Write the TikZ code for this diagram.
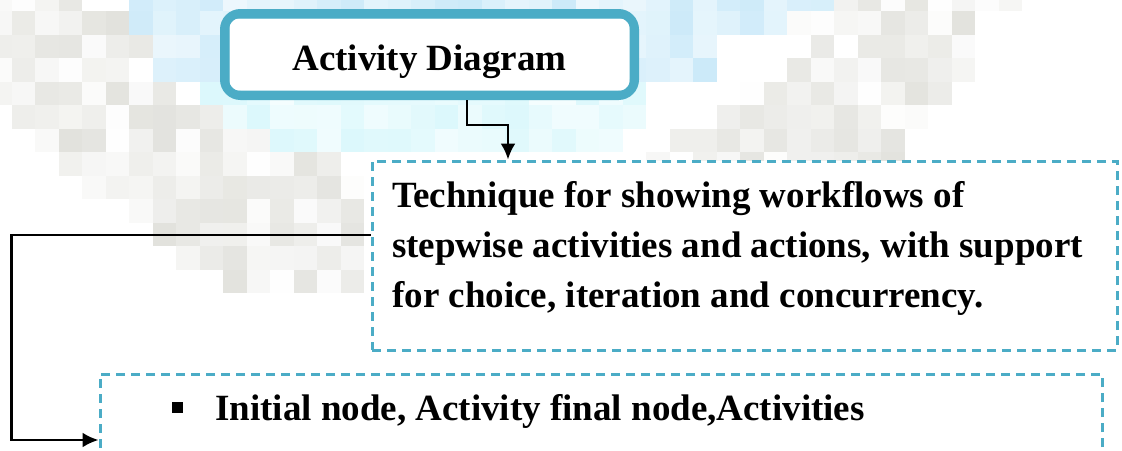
\documentclass[tikz,border=0pt]{standalone}
\usepackage{fontspec}
\setmainfont{Liberation Serif}
\usetikzlibrary{arrows.meta}
\definecolor{accent}{HTML}{4BACC6}
\definecolor{bgG}{HTML}{E2E2DD}
\definecolor{bgB}{HTML}{CCEAF9}
\definecolor{bgC}{HTML}{DBF8FC}
\begin{document}
\begin{tikzpicture}[x=1pt,y=-1pt,
  txt/.style={font=\fontsize{37pt}{50pt}\selectfont\bfseries, inner sep=0pt},
  conn/.style={draw=black, line width=2.5pt, -{Latex[length=16pt,width=15pt]}},
  dbox/.style={draw=accent, line width=3pt, dash pattern=on 9pt off 6pt, fill=white, inner sep=0pt}
]
\useasboundingbox (0,0) rectangle (1122,450);
\clip (0,0) rectangle (1122,450);
\fill[white] (0,0) rectangle (1122,450);
\pgfmathsetseed{7}
% grey mosaic, left band
\foreach \j/\a/\b in {0/0/3,1/0/5,2/0/7,3/0/5,4/0/7,5/1/10,6/2/12,7/3/14,8/4/15,9/5/15,10/7/15,11/8/15,12/10/15}{
  \foreach \i in {\a,...,\b}{
    \pgfmathrandominteger{\r}{0}{100}
    \fill[bgG!\r!white] ({-11.8+23.5*\i},{-12.5+23.5*\j}) rectangle ++(23.6,23.6);
  }
}
% grey mosaic, right
\foreach \j/\a/\b in {0/36/43,1/34/42,2/35/41,3/34/41,4/32/40,5/31/39,6/29/38,7/28/38}{
  \foreach \i in {\a,...,\b}{
    \pgfmathrandominteger{\r}{0}{100}
    \fill[bgG!\r!white] ({-11.8+23.5*\i},{-12.5+23.5*\j}) rectangle ++(23.6,23.6);
  }
}
% light blue mosaic
\foreach \j/\a/\b in {0/6/35,1/6/33,2/7/30,3/7/30}{
  \foreach \i in {\a,...,\b}{
    \pgfmathrandominteger{\r}{35}{100}
    \fill[bgB!\r!white] ({-11.8+23.5*\i},{-12.5+23.5*\j}) rectangle ++(23.6,23.6);
  }
}
\foreach \j/\a/\b in {4/9/27,5/10/27,6/12/26}{
  \foreach \i in {\a,...,\b}{
    \pgfmathrandominteger{\r}{30}{100}
    \fill[bgC!\r!white] ({-11.8+23.5*\i},{-12.5+23.5*\j}) rectangle ++(23.6,23.6);
  }
}
% title box
\node[draw=accent, line width=9pt, rounded corners=16pt, fill=white,
      minimum width=410pt, minimum height=82pt, inner sep=0pt] (title) at (429.5,54.5) {};
\draw[accent, line width=2pt, rounded corners=8pt]
  ([xshift=8.5pt,yshift=-8.5pt]title.north west) rectangle ([xshift=-8.5pt,yshift=8.5pt]title.south east);
\node[txt, anchor=base] (titletext) at (429.5,70) {Activity Diagram};
% description box
\node[dbox, minimum width=745pt, minimum height=189pt] (box1) at (744.5,255.5) {};
\node[txt, anchor=base west, align=left] (desc) at (392,307)
  {Technique for showing workflows of\\stepwise activities and actions, with support\\for choice, iteration and concurrency.};
% list box
\node[dbox, minimum width=1002pt, minimum height=106pt] (box2) at (601,427) {};
\node[fill=black, minimum size=11pt, inner sep=0pt] (bullet) at (177,407) {};
\node[txt, anchor=base west] (item) at (215,420) {Initial node, Activity final node,Activities};
% connectors
\draw[conn] ([xshift=37.5pt]title.south) -- ++(0,25) -| ([xshift=-236.5pt]box1.north);
\draw[conn] ([yshift=20.5pt]box1.west) -- ++(-359,0) |- ([yshift=-13pt]box2.west);
\end{tikzpicture}
\end{document}
